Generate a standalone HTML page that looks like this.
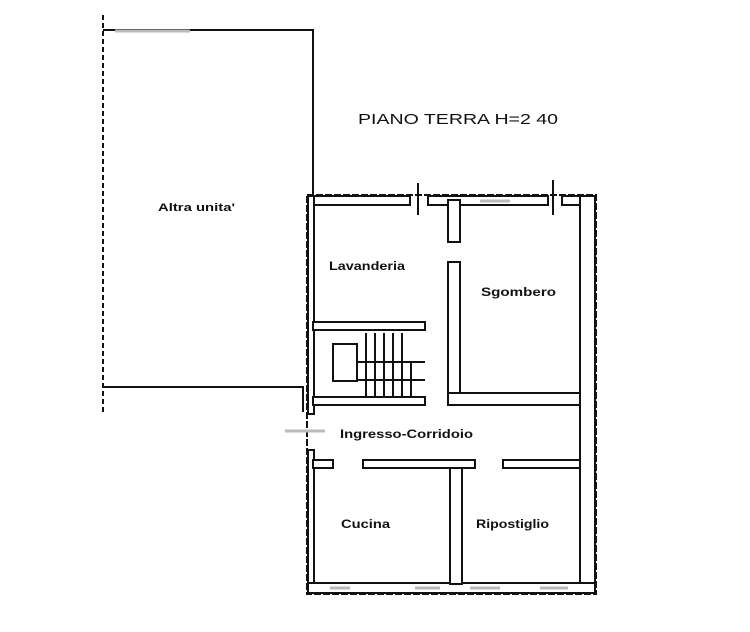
<!DOCTYPE html>
<html><head><meta charset="utf-8"><style>
html,body{margin:0;padding:0;background:#fff;}
svg{display:block}
text{font-family:"Liberation Sans",sans-serif;font-weight:bold;fill:#111}
</style></head><body>
<svg width="750" height="632" viewBox="0 0 750 632" xmlns="http://www.w3.org/2000/svg">
<g fill="none" stroke="#111" stroke-width="2">
<line x1="103" y1="15" x2="103" y2="412" stroke-dasharray="5,3"/>
<polyline points="103,30 313,30 313,195"/>
<polyline points="103,387 303,387 303,412"/>
<rect x="307" y="195" width="289" height="399" stroke-dasharray="7,2"/>
</g>
<g fill="#fff" stroke="#111" stroke-width="2">
<rect x="308" y="196" width="102" height="9"/>
<rect x="428" y="196" width="120" height="9"/>
<rect x="562" y="196" width="33" height="9"/>
<rect x="308" y="196" width="6" height="218"/>
<rect x="308" y="450" width="6" height="143"/>
<rect x="580" y="196" width="15" height="397"/>
<rect x="308" y="583" width="287" height="10"/>
<rect x="448" y="200" width="12" height="42"/>
<rect x="448" y="262" width="12" height="143"/>
<rect x="448" y="393" width="132" height="12"/>
<rect x="313" y="322" width="112" height="8"/>
<rect x="313" y="397" width="112" height="8"/>
<rect x="313" y="460" width="20" height="8"/>
<rect x="363" y="460" width="112" height="8"/>
<rect x="503" y="460" width="77" height="8"/>
<rect x="450" y="468" width="12" height="116"/>
<rect x="333" y="344" width="24" height="37"/>
</g>
<g stroke="#111" stroke-width="2">
<line x1="418" y1="183" x2="418" y2="215"/>
<line x1="553" y1="180" x2="553" y2="215"/>
<line x1="357" y1="362" x2="425" y2="362"/>
<line x1="357" y1="380" x2="425" y2="380"/>
<line x1="366" y1="333" x2="366" y2="397"/><line x1="375" y1="333" x2="375" y2="397"/>
<line x1="384" y1="333" x2="384" y2="397"/><line x1="393" y1="333" x2="393" y2="397"/>
<line x1="402" y1="333" x2="402" y2="397"/><line x1="411" y1="362" x2="411" y2="397"/>
</g>
<g stroke="#bbb" stroke-width="3">
<line x1="115" y1="31" x2="190" y2="31"/>
<line x1="480" y1="201" x2="510" y2="201"/>
<line x1="285" y1="431" x2="325" y2="431"/>
<line x1="330" y1="588" x2="350" y2="588"/><line x1="415" y1="588" x2="440" y2="588"/>
<line x1="470" y1="588" x2="500" y2="588"/><line x1="540" y1="588" x2="568" y2="588"/>
</g>
<text x="358" y="124" font-size="15" style="font-weight:normal" textLength="200" lengthAdjust="spacingAndGlyphs">PIANO TERRA H=2 40</text>
<text x="158" y="211" font-size="11" textLength="77" lengthAdjust="spacingAndGlyphs">Altra unita'</text>
<text x="329" y="270" font-size="12" textLength="76" lengthAdjust="spacingAndGlyphs">Lavanderia</text>
<text x="481" y="296" font-size="12" textLength="75" lengthAdjust="spacingAndGlyphs">Sgombero</text>
<text x="340" y="438" font-size="12" textLength="133" lengthAdjust="spacingAndGlyphs">Ingresso-Corridoio</text>
<text x="341" y="528" font-size="12" textLength="49" lengthAdjust="spacingAndGlyphs">Cucina</text>
<text x="476" y="528" font-size="12" textLength="73" lengthAdjust="spacingAndGlyphs">Ripostiglio</text>
</svg>
</body></html>
